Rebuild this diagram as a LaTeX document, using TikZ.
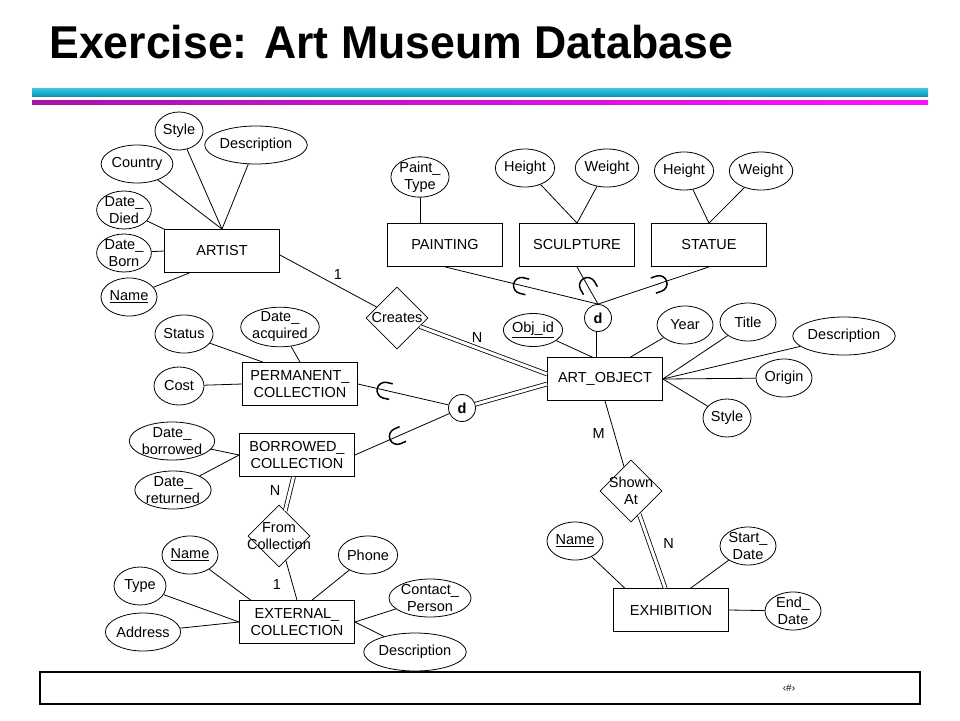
\documentclass[tikz,border=0pt]{standalone}
\usepackage{fontspec}
\setmainfont{Liberation Sans}
\usetikzlibrary{shapes.geometric,calc}

\definecolor{barcyan}{HTML}{1AB6D6}
\definecolor{barmagL}{HTML}{A812A8}
\definecolor{barmagR}{HTML}{FF10FF}

\tikzset{
  entity/.style={draw, rectangle, minimum width=115pt, minimum height=43pt, inner sep=0pt, align=center},
  attr/.style={draw, ellipse, inner xsep=0pt, inner ysep=-1pt, minimum height=38pt, minimum width=52pt, align=center},
  rel/.style={draw, diamond, minimum width=62pt, minimum height=62pt, inner sep=0pt},
  disj/.style={draw, circle, minimum size=27pt, inner sep=0pt, font=\fontsize{14.5}{17}\selectfont\bfseries},
  card/.style={font=\fontsize{14.5}{17}\selectfont},
  total/.style={double, double distance=3pt},
  pics/subset/.style={code={
    \draw[line width=1.5pt] (6pt,8pt) -- (0,8pt) arc[start angle=90, end angle=270, radius=8pt] -- (6pt,-8pt);
  }}
}

\begin{document}
\begin{tikzpicture}[x=1pt, y=-1pt, line width=0.8pt, font=\fontsize{14.5}{17}\selectfont]

\useasboundingbox (0,0) rectangle (960,720);

% title and bars
\node[anchor=base west, font=\fontsize{46}{50}\selectfont\bfseries, inner sep=0pt] (title) at (49,58) {\scalebox{0.97}[1]{Exercise: Art Museum Database}};
\fill[top color=barcyan!80, bottom color=barcyan!80!black, middle color=barcyan] (32,88) rectangle (928,96);
\fill[left color=barmagL, right color=barmagR] (32,100) rectangle (928,104);

% footer
\draw[line width=1.4pt] (40,672) rectangle (920,704);
\node[font=\fontsize{10}{12}\selectfont] (pgno) at (789,688) {‹\#›};

% entities
\node[entity] (artist) at (222,251) {ARTIST};
\node[entity] (painting) at (445,245) {PAINTING};
\node[entity] (sculpture) at (577,245) {SCULPTURE};
\node[entity] (statue) at (709,245) {STATUE};
\node[entity] (artobj) at (605,379) {ART\_OBJECT};
\node[entity] (perm) at (300,384) {PERMANENT\_\\COLLECTION};
\node[entity] (borr) at (297,455) {BORROWED\_\\COLLECTION};
\node[entity] (ext) at (297,622) {EXTERNAL\_\\COLLECTION};
\node[entity] (exhib) at (671,610) {EXHIBITION};

% relationships
\node[rel, label=center:Creates] (creates) at (397,318) {};
\node[rel, label={[align=center]center:From\\Collection}] (fromcol) at (279,536) {};
\node[rel, label={[align=center]center:Shown\\At}] (shown) at (631,491) {};

% disjointness circles
\node[disj] (dtop) at (598,318) {d};
\node[disj] (dleft) at (462,408) {d};

% artist attributes
\node[attr, minimum width=48pt] (aStyle) at (179,131) {Style};
\node[attr] (aDesc) at (256,145) {Description};
\node[attr] (aCountry) at (137,164) {Country};
\node[attr] (aDied) at (124,210) {Date\_\\Died};
\node[attr] (aBorn) at (124,253) {Date\_\\Born};
\node[attr, minimum width=56pt] (aName) at (129,297) {\underline{Name}};

% subclass attributes
\node[attr] (pType) at (420,177) {Paint\_\\Type};
\node[attr] (sHeight) at (525,168) {Height};
\node[attr] (sWeight) at (607,168) {Weight};
\node[attr] (tHeight) at (684,171) {Height};
\node[attr] (tWeight) at (761,171) {Weight};

% art object attributes
\node[attr, minimum height=33pt] (oId) at (533,330) {\underline{Obj\_id}};
\node[attr, minimum width=56pt] (oYear) at (685,325) {Year};
\node[attr, minimum width=56pt] (oTitle) at (748,322) {Title};
\node[attr] (oDesc) at (844,336) {Description};
\node[attr, minimum width=56pt] (oOrigin) at (784,378) {Origin};
\node[attr, minimum width=48pt] (oStyle) at (727,418) {Style};

% collection attributes
\node[attr] (cStatus) at (184,334) {Status};
\node[attr] (cAcq) at (280,327) {Date\_\\acquired};
\node[attr, minimum width=50pt] (cCost) at (179,386) {Cost};
\node[attr] (cBorr) at (172,441) {Date\_\\borrowed};
\node[attr] (cRet) at (173,490) {Date\_\\returned};

% external collection attributes
\node[attr, minimum width=56pt] (eName) at (190,555) {\underline{Name}};
\node[attr] (ePhone) at (368,555) {Phone};
\node[attr] (eType) at (140,586) {Type};
\node[attr] (eContact) at (430,598) {Contact\_\\Person};
\node[attr] (eAddr) at (143,632) {Address};
\node[attr] (eDesc) at (415,652) {Description};

% exhibition attributes
\node[attr, minimum width=56pt] (xName) at (575,541) {\underline{Name}};
\node[attr, minimum width=56pt] (xStart) at (748,546) {Start\_\\Date};
\node[attr, minimum width=56pt] (xEnd) at (793,611) {End\_\\Date};

% attribute links
\foreach \a in {aStyle,aDesc,aCountry}
    \draw (\a) -- (artist.north);
\draw (aDied) -- (artist.north west);
\draw (aBorn) -- (artist.west);
\draw (aName) -- (artist.214);

\draw (pType) -- (painting.north -| pType);
\foreach \a in {sHeight,sWeight}
    \draw (\a) -- (sculpture.north);
\foreach \a in {tHeight,tWeight}
    \draw (\a) -- (statue.north);

\draw (oId) -- ($(artobj.north west)!0.39!(artobj.north east)$);
\draw (oYear) -- ($(artobj.north west)!0.72!(artobj.north east)$);
\foreach \a in {oTitle,oDesc,oOrigin,oStyle}
    \draw (\a) -- (artobj.east);

\draw (cStatus) -- ($(perm.north west)!0.18!(perm.north east)$);
\draw (cAcq) -- ($(perm.north west)!0.5!(perm.north east)$);
\draw (cCost) -- (perm.west);
\foreach \a in {cBorr,cRet}
    \draw (\a) -- (borr.west);

\draw (eName) -- ($(ext.north west)!0.1!(ext.north east)$);
\draw (ePhone) -- ($(ext.north west)!0.63!(ext.north east)$);
\foreach \a in {eType,eAddr}
    \draw (\a) -- (ext.west);
\foreach \a in {eContact,eDesc}
    \draw (\a) -- (ext.east);

\draw (xName) -- ($(exhib.north west)!0.1!(exhib.north east)$);
\draw (xStart) -- ($(exhib.north west)!0.67!(exhib.north east)$);
\draw (xEnd) -- (exhib.east);

% relationship links
\draw (artist.east |- 0,255) -- node[card, pos=0.6, above=3pt] {1} (creates);
\draw[total] (creates) -- node[card, pos=0.45, above=2pt] {N} (artobj.west |- 0,374);
\draw (artobj.south) -- node[card, pos=0.5, left=6pt] {M} (shown);
\draw[total] (shown) -- node[card, pos=0.4, right=10pt] {N} ($(exhib.north west)!0.45!(exhib.north east)$);
\draw[total] ($(borr.south west)!0.47!(borr.south east)$) -- node[card, pos=0.4, left=6pt] {N} (fromcol);
\draw (fromcol) -- node[card, pos=0.6, left=8pt] {1} ($(ext.north west)!0.5!(ext.north east)$);

% specialisations
\draw[total] (dtop) -- (artobj.north -| dtop);
\draw[total] (dleft) -- (artobj.west |- 0,384);
\draw (painting.south) -- pic[pos=0.5, sloped, allow upside down] {subset} (dtop.north);
\draw (sculpture.south) -- pic[pos=0.5, sloped, allow upside down] {subset} (dtop.north);
\draw (statue.south) -- pic[pos=0.45, sloped, allow upside down] {subset} (dtop.north);
\draw (perm.east) -- pic[pos=0.3, sloped, allow upside down] {subset} (dleft);
\draw (borr.east) -- pic[pos=0.45, sloped, allow upside down] {subset} (dleft);

\end{tikzpicture}
\end{document}
